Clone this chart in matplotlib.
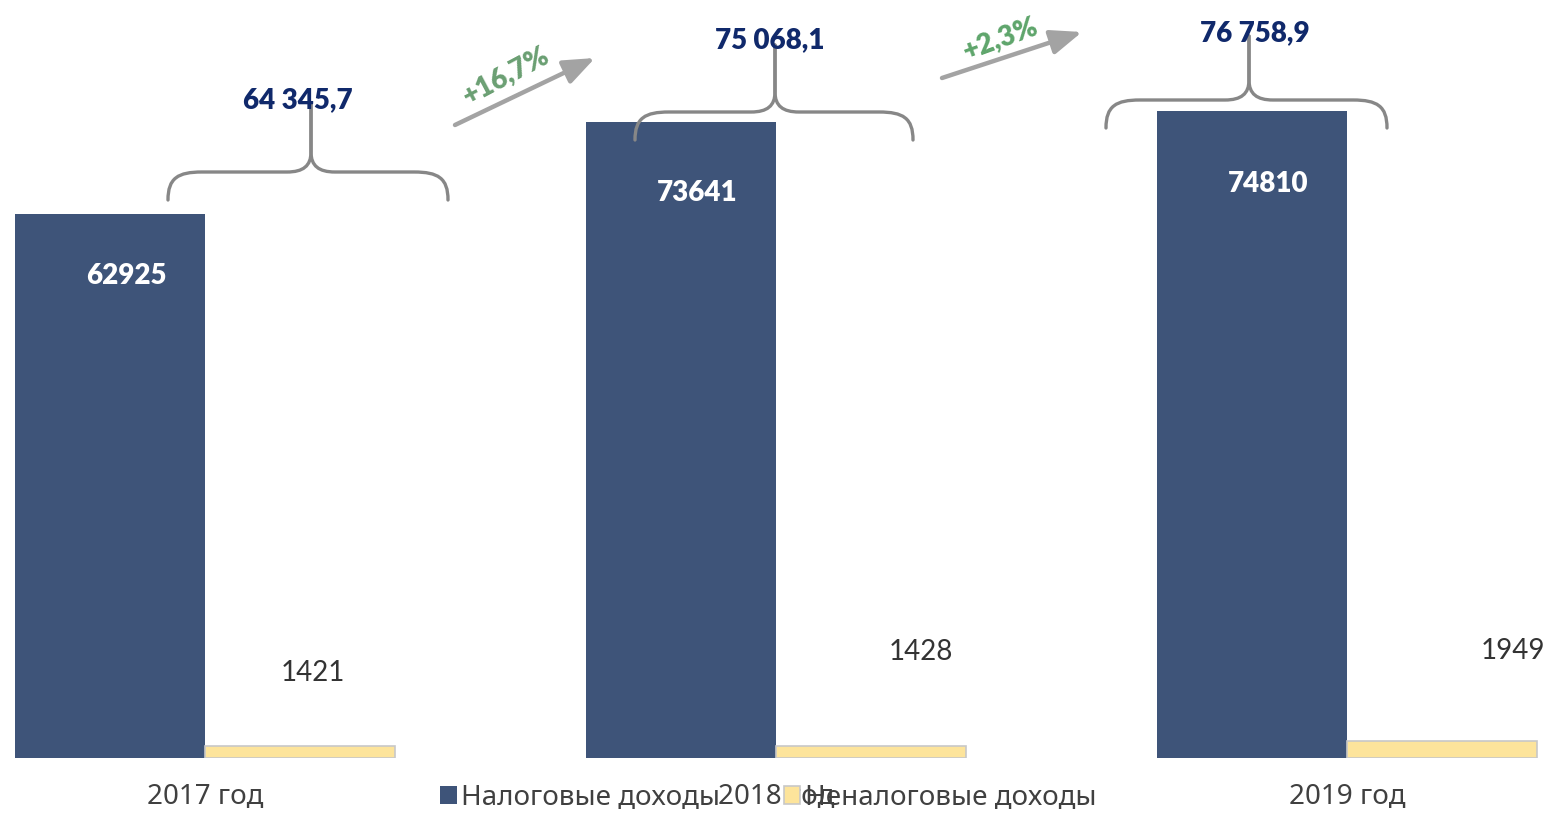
import matplotlib
matplotlib.use("Agg")
import matplotlib.pyplot as plt
import numpy as np
from matplotlib.path import Path
from matplotlib.patches import PathPatch

years = ["2017 год", "2018 год", "2019 год"]
tax = [62925, 73641, 74810]
nontax = [1421, 1428, 1949]
totals = [64345.7, 75068.1, 76758.9]
series_names = ["Налоговые доходы", "Неналоговые доходы"]

blue = "#3e5479"
yellow = "#fde49b"
navy = "#10296b"
green = "#5ea56b"
grey_line = "#878787"

W, H = 1556, 822


def fmt_total(v):
    s = f"{v:,.1f}"
    return s.replace(",", " ").replace(".", ",")


def fmt_pct(a, b):
    return "+" + f"{(b / a - 1) * 100:.1f}".replace(".", ",") + "%"


fig = plt.figure(figsize=(W / 100, H / 100), dpi=100)
fig.patch.set_facecolor("white")

# main axes: baseline at y=758 px, 1 px ~ 115.7 units
ax = fig.add_axes([0, 64 / H, 1, 758 / H])
x = np.arange(len(years))
w = 190 / 571
b1 = ax.bar(x - w / 2, tax, width=w, color=blue, label=series_names[0])
b2 = ax.bar(x + w / 2, nontax, width=w, color=yellow, edgecolor="#c8c8c8",
            linewidth=1.2, label=series_names[1])
ax.set_xlim(-205 / 571, (W - 205) / 571)
ax.set_ylim(0, 758 * 115.7)
for s in ax.spines.values():
    s.set_visible(False)
ax.set_yticks([])
ax.set_xticks(x)
ax.set_xticklabels(years, fontsize=20, color="#404040", family="Noto Sans")
ax.tick_params(axis="x", length=0, pad=18)

# value labels
for i, v in enumerate(tax):
    ax.text(i - w / 2 + 16 / 571, v * 0.887, str(v), ha="center", va="center",
            color="white", fontsize=20, fontweight="heavy", family="Lato")
nt_dx = [13, 50, 71]
nt_dy = [85, 106, 107]
for i, v in enumerate(nontax):
    ax.text(i + w / 2 + nt_dx[i] / 571, nt_dy[i] * 115.7, str(v), ha="center",
            va="center", color="#333333", fontsize=20, family="Lato")

ax.legend(handles=[b1, b2], loc="center left", bbox_to_anchor=(440 / W, 1 - 798 / H),
          bbox_transform=fig.transFigure, ncol=2, frameon=False,
          prop={"family": "Noto Sans", "size": 20}, labelcolor="#404040",
          handlelength=0.6, handleheight=0.6, handletextpad=0.15,
          columnspacing=2.3, borderaxespad=0, borderpad=0)

# overlay in pixel coordinates for braces and arrows
ov = fig.add_axes([0, 0, 1, 1], zorder=5)
ov.set_xlim(0, W)
ov.set_ylim(H, 0)
ov.axis("off")
ov.patch.set_alpha(0)


def brace(xl, xr, yb, yh, xc, ytop):
    for side in (-1, 1):
        xe = xl if side == -1 else xr
        verts = [(xe, yb), (xe, yh + 6), (xe - side * 10, yh), (xe - side * 34, yh),
                 (xc + side * 24, yh),
                 (xc + side * 8, yh), (xc, yh - 6), (xc, yh - 20),
                 (xc, ytop)]
        codes = [Path.MOVETO, Path.CURVE4, Path.CURVE4, Path.CURVE4,
                 Path.LINETO,
                 Path.CURVE4, Path.CURVE4, Path.CURVE4,
                 Path.LINETO]
        ov.add_patch(PathPatch(Path(verts, codes), fill=False, edgecolor=grey_line,
                               lw=2.4, capstyle="round", joinstyle="round"))


brace(168, 448, 200, 172, 311, 104)
brace(635, 913, 140, 112, 775, 45)
brace(1106, 1387, 128, 100, 1249, 36)

total_pos = [(298, 100), (770, 40), (1255, 33)]
for (tx, ty), v in zip(total_pos, totals):
    ov.text(tx, ty, fmt_total(v), ha="center", va="center", color=navy,
            fontsize=20, fontweight="heavy", family="Lato")

arrows = [((455, 125), (595, 58)), ((942, 78), (1082, 32))]
for (p0, p1) in arrows:
    ov.annotate("", xy=p1, xytext=p0,
                arrowprops=dict(arrowstyle="-|>,head_length=1.9,head_width=0.75",
                                color="#a3a3a3", lw=3.2, shrinkA=0, shrinkB=0))

pct_pos = [(506, 75, 28), (1001, 38, 20)]
pct_col = ["#6a9f72", green]
for k, (tx, ty, rot) in enumerate(pct_pos):
    ov.text(tx, ty, fmt_pct(totals[k], totals[k + 1]), ha="center", va="center",
            rotation=rot, rotation_mode="anchor", color=pct_col[k],
            fontsize=20, fontweight="heavy", family="Lato")

fig.savefig("out.png", dpi=100)
